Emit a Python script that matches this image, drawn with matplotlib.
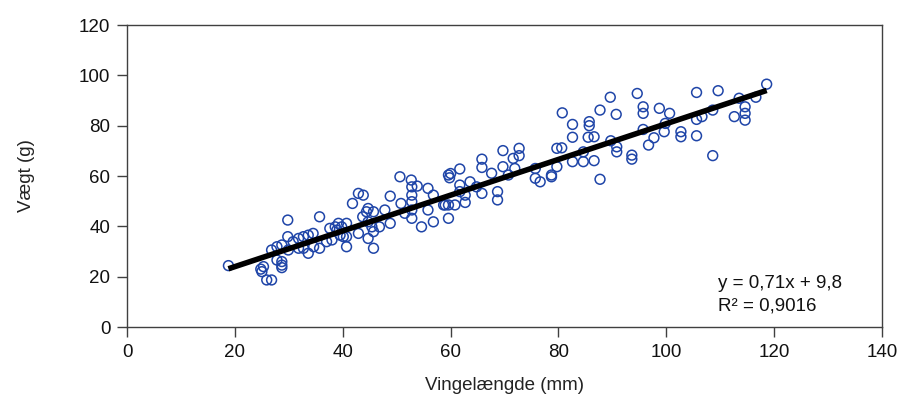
import numpy as np
import matplotlib
matplotlib.use("Agg")
import matplotlib.pyplot as plt

plt.rcParams['font.family'] = ['Liberation Sans', 'DejaVu Sans']

# Vingelængde (mm) og vægt (g)
wing = [18.8, 24.8, 25.0, 25.3, 25.9, 26.8, 26.8, 27.8, 27.8, 28.7, 28.7, 28.7, 28.7,
        29.8, 29.8, 29.9, 30.8, 31.8, 31.8, 32.7, 32.7, 33.6, 33.6, 34.5, 34.6, 35.7,
        35.7, 37.0, 37.6, 38.6, 39.2, 39.5,
        38.0, 38.9, 39.8, 40.1, 40.7, 40.7, 40.7, 41.8, 42.9, 43.8, 42.9, 43.7, 44.4,
        44.7, 44.7, 44.7, 45.4, 45.7, 45.7, 45.7, 46.8, 47.8, 48.8, 48.8, 50.6, 50.8,
        51.5, 52.7, 52.8, 52.8, 52.8, 52.8, 52.8, 53.8, 54.6, 55.8, 55.8, 56.8, 56.8,
        58.7, 59.6, 59.6, 59.6,
        60.0, 59.8, 61.7, 61.7, 61.7, 62.7, 62.7, 60.8, 59.0, 63.6, 64.8, 65.8, 65.8,
        65.8, 67.6, 68.7, 68.7, 69.7, 69.7, 70.7, 71.6, 71.9, 72.7, 72.7, 75.7, 75.7,
        76.6, 78.7, 78.7, 79.7, 79.7,
        80.6, 80.7, 82.6, 82.6, 82.6, 84.6, 84.6, 85.7, 85.7, 85.5, 86.6, 86.6, 87.7,
        87.7, 89.6, 89.7, 90.7, 90.8, 90.8, 93.6, 93.6, 94.6, 95.7, 95.7, 95.7, 96.7,
        97.7, 98.7, 99.6, 99.8, 100.6,
        102.7, 102.7, 105.6, 105.6, 105.6, 106.6, 108.6, 108.6, 109.6, 112.6, 113.5,
        114.6, 114.6, 114.6, 116.6, 118.6]
weight = [24.4, 23.0, 22.0, 24.0, 18.7, 18.7, 30.6, 31.9, 26.6, 26.0, 24.6, 23.6, 32.6,
          42.5, 35.9, 30.6, 33.9, 35.2, 31.3, 35.9, 31.3, 36.5, 29.3, 37.2, 31.9, 43.8,
          31.3, 33.9, 39.2, 39.8, 41.2, 36.5,
          34.6, 38.5, 39.8, 35.9, 41.2, 35.9, 31.9, 49.1, 53.1, 52.4, 37.2, 43.8, 45.8,
          47.1, 35.2, 41.8, 39.8, 45.8, 37.9, 31.3, 39.8, 46.5, 52.0, 41.2, 59.7, 49.1,
          45.2, 58.4, 55.7, 52.4, 49.8, 46.5, 43.2, 56.0, 39.8, 55.1, 46.5, 52.4, 41.8,
          48.5, 48.5, 43.2, 60.4,
          61.0, 59.3, 62.8, 56.4, 53.8, 52.4, 49.5, 48.5, 48.5, 57.7, 55.7, 66.7, 63.4,
          53.1, 61.1, 53.8, 50.5, 70.1, 63.7, 60.4, 67.0, 63.0, 71.0, 68.1, 63.0, 59.1,
          57.7, 60.4, 59.7, 71.0, 63.7,
          71.2, 85.1, 80.5, 75.4, 65.7, 69.6, 65.7, 81.6, 80.0, 75.4, 75.6, 66.1, 86.2,
          58.7, 91.3, 74.0, 84.5, 71.6, 69.6, 68.3, 66.7, 92.8, 87.5, 84.9, 78.5, 72.3,
          75.2, 86.9, 77.6, 80.9, 84.9,
          77.6, 75.6, 93.2, 82.5, 76.0, 83.6, 86.2, 68.1, 93.9, 83.6, 90.9,
          87.5, 84.9, 82.2, 91.3, 96.5]

# tendenslinje fra figurens tekst
slope = 0.71
intercept = 9.8
r2 = 0.9016

fig = plt.figure(figsize=(9.01, 3.94), dpi=100)
ax = fig.add_axes([0.141, 0.170, 0.838, 0.7665])

ax.scatter(wing, weight, s=50, facecolors='none', edgecolors='#1f45a8',
           linewidths=1.1, zorder=2)

xl = np.array([min(wing), max(wing)])
ax.plot(xl, slope * xl + intercept, color='black', lw=4, solid_capstyle='butt', zorder=3)

ax.set_xlim(0, 140)
ax.set_ylim(0, 120)
ax.set_xticks(range(0, 141, 20))
ax.set_yticks(range(0, 121, 20))
ax.tick_params(direction='out', length=7, width=1, color='#404040', labelsize=13.5,
               pad=5, labelcolor='#111111')
for s in ax.spines.values():
    s.set_color('#404040')
    s.set_linewidth(1)

ax.set_xlabel('Vingelængde (mm)', fontsize=13.5, labelpad=12, color='#222222')
ax.set_ylabel('Vægt (g)', fontsize=13.5, labelpad=32, color='#222222')

txt = 'y = ' + str(slope).replace('.', ',') + 'x + ' + str(intercept).replace('.', ',')
txt += '\nR² = ' + str(r2).replace('.', ',')
ax.text(0.783, 0.106, txt, transform=ax.transAxes, fontsize=13.5, va='center',
        ha='left', linespacing=1.45, color='#111111')

fig.savefig('out.png', dpi=100)
